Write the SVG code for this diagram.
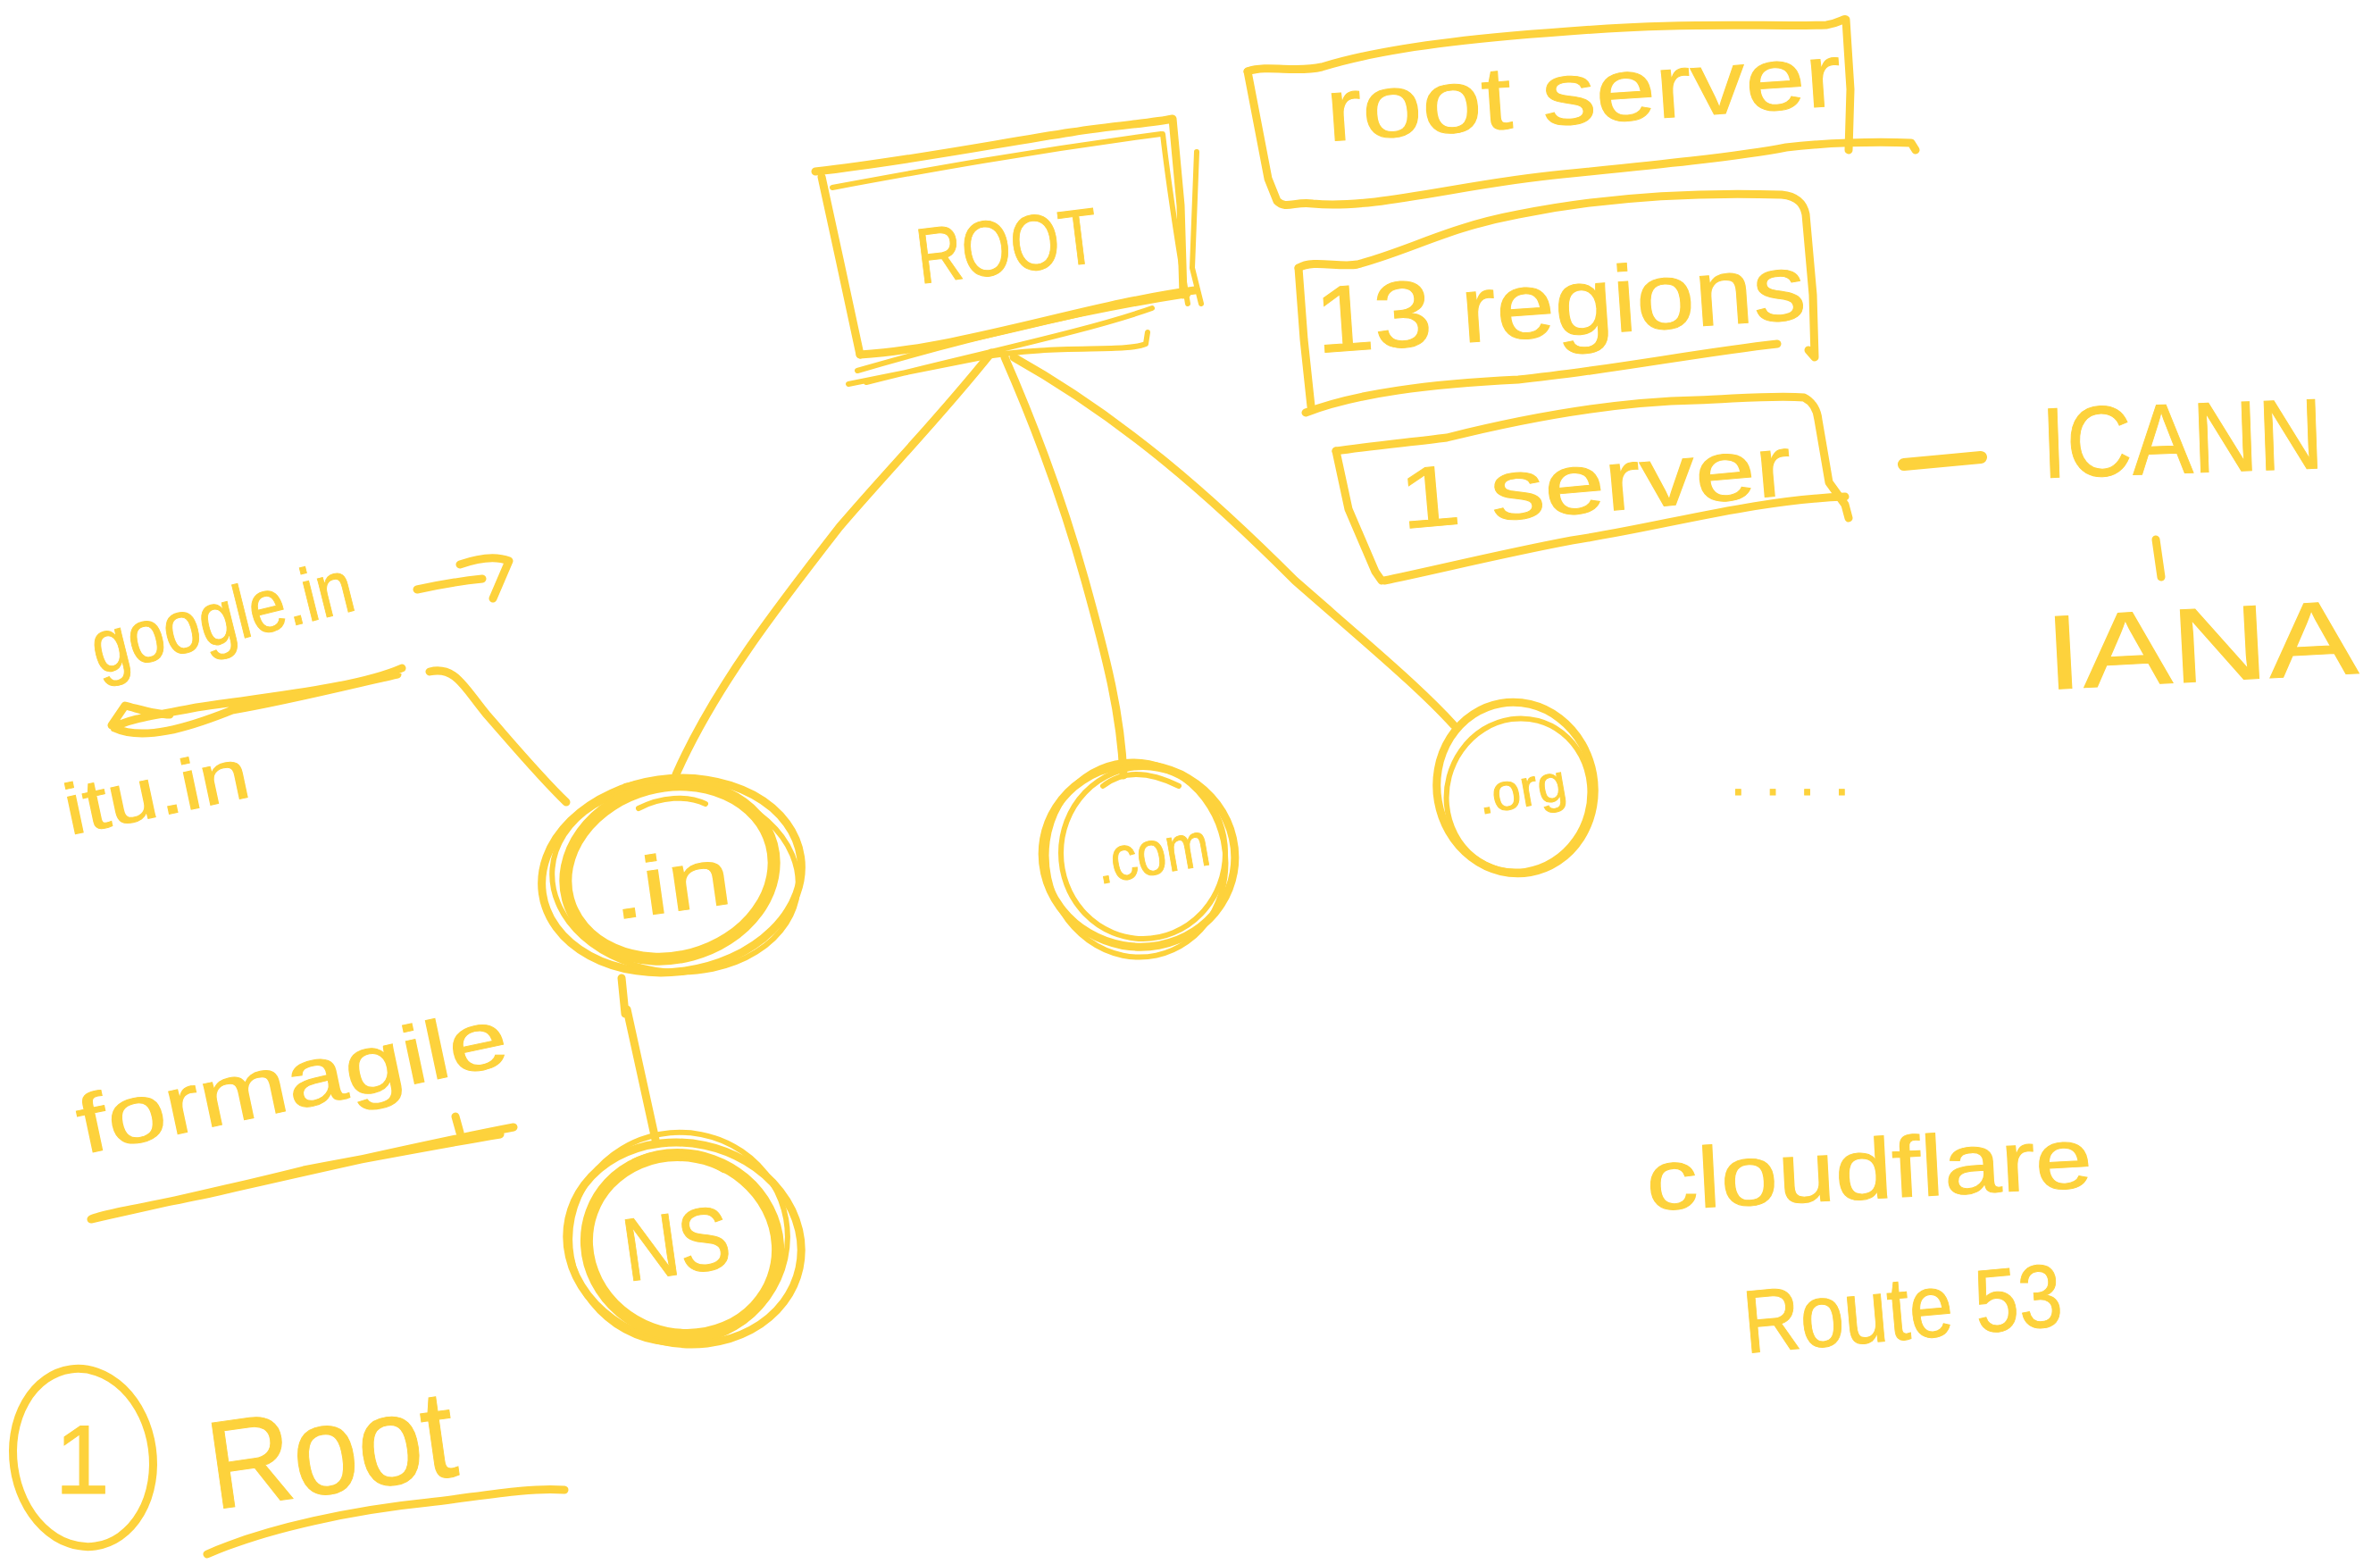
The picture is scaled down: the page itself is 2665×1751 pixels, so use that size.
<svg xmlns="http://www.w3.org/2000/svg" width="2665" height="1751" viewBox="0 0 2665 1751">
<style>
.s{fill:none;stroke:#FDD23C;stroke-width:9;stroke-linecap:round;stroke-linejoin:round}
.t{stroke-width:6}
.k{stroke-width:14}
.h{fill:#FDD23C;stroke:#FDD23C;stroke-width:1;font-family:"Liberation Sans","DejaVu Sans",sans-serif}
</style>
<rect width="2665" height="1751" fill="#ffffff"/>

<g id="connectors">
<path class="s" d="M1110,395 C1050,470 1000,520 940,590 C870,680 800,770 757,867"/>
<path class="s" d="M1125,400 C1160,480 1190,560 1215,650 C1240,740 1255,800 1258,868"/>
<path class="s" d="M1135,400 C1260,470 1360,560 1450,650 C1530,720 1590,770 1628,812"/>
<path class="s" d="M481,752 C510,745 520,770 545,800 C580,840 605,870 634,898"/>
<path class="s" d="M696,1095 L700,1135 M702,1130 L734,1276"/>
<path class="s k" d="M2132,520 L2218,512"/>
<path class="s" d="M2414,604 L2420,646"/>
</g>

<g id="root">
<path class="s" d="M913,192 C1020,180 1120,160 1200,148 C1250,140 1290,138 1313,133 L1322,230 L1325,330"/>
<path class="s t" d="M932,210 C1040,190 1150,170 1300,150"/>
<path class="s" d="M920,198 L940,290 L963,397"/>
<path class="s t" d="M1302,150 C1310,220 1320,280 1330,340 M1340,170 L1335,300 L1345,340"/>
<path class="s" d="M963,397 C1080,390 1220,340 1338,325"/>
<path class="s t" d="M960,415 C1080,380 1200,350 1330,330 M970,428 C1100,395 1220,370 1290,345 M950,430 C1000,420 1060,408 1100,400 C1180,385 1260,395 1283,385 L1285,372"/>
<text class="h" x="1028" y="318" font-size="88" textLength="204" lengthAdjust="spacingAndGlyphs" transform="rotate(-7 1028 300)">ROOT</text>
</g>

<g id="root-server">
<path class="s" d="M1397,80 C1420,72 1450,82 1480,75 C1560,50 1680,40 1800,32 C1900,25 1990,30 2045,28 C2060,26 2065,20 2067,22 L2072,100 L2070,168"/>
<path class="s" d="M1397,80 L1420,200 L1430,225 C1440,235 1450,225 1470,228 C1540,235 1640,205 1750,195 C1850,185 1950,175 2000,165 C2040,160 2100,158 2140,160 L2145,168"/>
<text class="h" x="1487" y="158" font-size="100" textLength="578" lengthAdjust="spacingAndGlyphs" transform="rotate(-4 1487 158)">root server</text>
</g>

<g id="regions">
<path class="s" d="M1454,300 C1470,290 1500,300 1520,296 C1580,280 1620,255 1700,240 C1800,220 1900,215 1995,218 C2015,220 2020,230 2022,240 L2030,330 L2032,400 L2025,392"/>
<path class="s" d="M1454,300 L1460,380 L1468,455"/>
<path class="s" d="M1462,462 C1520,440 1600,430 1700,425 C1800,415 1900,395 1990,385"/>
<text class="h" x="1475" y="395" font-size="105" textLength="550" lengthAdjust="spacingAndGlyphs" transform="rotate(-4 1475 395)">13 regions</text>
</g>

<g id="one-server">
<path class="s" d="M1496,505 C1530,500 1580,495 1620,490 C1700,470 1800,450 1900,448 C1950,446 1990,442 2020,445 C2030,450 2035,460 2036,470 L2048,540 L2066,565 L2070,580"/>
<path class="s" d="M1496,505 L1510,570 L1540,640 L1547,650"/>
<path class="s" d="M1550,650 C1600,640 1680,620 1760,605 C1860,590 1960,560 2066,556"/>
<text class="h" x="1570" y="592" font-size="96" textLength="440" lengthAdjust="spacingAndGlyphs" transform="rotate(-5 1570 592)">1 server</text>
</g>

<g id="icann">
<text class="h" x="2287" y="535" font-size="112" textLength="316" lengthAdjust="spacingAndGlyphs" transform="rotate(-2 2287 535)">ICANN</text>
<text class="h" x="2292" y="772" font-size="118" textLength="350" lengthAdjust="spacingAndGlyphs" transform="rotate(-3 2292 772)">IANA</text>
</g>

<g id="tld-in">
<ellipse class="s" cx="752" cy="980" rx="146" ry="108" transform="rotate(-8 752 980)"/>
<ellipse class="s t" cx="756" cy="984" rx="138" ry="104" transform="rotate(5 756 984)"/>
<ellipse class="s k" cx="750" cy="976" rx="118" ry="96" transform="rotate(-15 750 976)"/>
<path class="s t" d="M700,880 C740,870 780,872 810,880 M715,905 C740,892 770,890 790,900"/>
<text class="h" x="685" y="1030" font-size="92" textLength="136" lengthAdjust="spacingAndGlyphs" transform="rotate(-8 685 1010)">.in</text>
</g>

<g id="tld-com">
<ellipse class="s" cx="1275" cy="958" rx="108" ry="102" transform="rotate(10 1275 958)"/>
<ellipse class="s t" cx="1272" cy="962" rx="100" ry="110" transform="rotate(-12 1272 962)"/>
<ellipse class="s t" cx="1280" cy="955" rx="92" ry="96"/>
<path class="s t" d="M1235,880 C1260,860 1290,865 1320,880"/>
<text class="h" x="1228" y="990" font-size="70" textLength="128" lengthAdjust="spacingAndGlyphs" transform="rotate(-10 1228 970)">.com</text>
</g>

<g id="tld-org">
<ellipse class="s" cx="1697" cy="882" rx="88" ry="96" transform="rotate(-10 1697 882)"/>
<ellipse class="s t" cx="1700" cy="890" rx="80" ry="86" transform="rotate(15 1700 890)"/>
<text class="h" x="1655" y="912" font-size="58" textLength="100" lengthAdjust="spacingAndGlyphs" transform="rotate(-10 1655 895)">.org</text>
</g>

<g id="dots">
<text class="h" x="1938" y="890" font-size="60" letter-spacing="22">....</text>
</g>

<g id="ns">
<ellipse class="s" cx="766" cy="1392" rx="132" ry="112" transform="rotate(12 766 1392)"/>
<ellipse class="s t" cx="760" cy="1386" rx="122" ry="118" transform="rotate(-10 760 1386)"/>
<ellipse class="s k" cx="764" cy="1394" rx="108" ry="100" transform="rotate(20 764 1394)"/>
<path class="s t" d="M710,1300 C740,1285 780,1290 810,1310"/>
<text class="h" x="700" y="1435" font-size="100" textLength="120" lengthAdjust="spacingAndGlyphs" transform="rotate(-8 700 1415)">NS</text>
</g>

<g id="google">
<text class="h" x="110" y="755" font-size="84" textLength="300" lengthAdjust="spacingAndGlyphs" transform="rotate(-14 110 755)">google.in</text>
<path class="s" d="M467,660 C490,655 520,650 540,648 M515,632 C535,625 555,622 570,628 L552,670"/>
<path class="s" d="M450,748 C400,770 300,780 220,792 C180,800 140,805 128,815 C160,830 210,815 260,795 C320,785 400,765 445,755 M125,812 L140,790 C160,795 175,800 190,800"/>
<text class="h" x="78" y="935" font-size="80" textLength="210" lengthAdjust="spacingAndGlyphs" transform="rotate(-12 78 935)">itu.in</text>
</g>

<g id="formagile">
<text class="h" x="94" y="1292" font-size="92" textLength="490" lengthAdjust="spacingAndGlyphs" transform="rotate(-12 94 1292)">formagile</text>
<path class="s" d="M575,1262 C480,1280 350,1310 240,1335 C170,1350 110,1360 102,1365 C170,1350 260,1330 340,1310 C420,1295 500,1280 560,1270 M510,1250 L515,1268"/>
</g>

<g id="step-root">
<ellipse class="s" cx="93" cy="1632" rx="78" ry="100" transform="rotate(-8 93 1632)"/>
<text class="h" x="92" y="1672" font-size="110" text-anchor="middle">1</text>
<text class="h" x="240" y="1690" font-size="140" textLength="278" lengthAdjust="spacingAndGlyphs" transform="rotate(-8 240 1690)">Root</text>
<path class="s" d="M232,1740 C300,1710 400,1690 480,1682 C540,1675 590,1665 632,1668"/>
</g>

<g id="cloud">
<text class="h" x="1845" y="1355" font-size="96" textLength="500" lengthAdjust="spacingAndGlyphs" transform="rotate(-3 1845 1355)">cloudflare</text>
<text class="h" x="1955" y="1515" font-size="100" textLength="358" lengthAdjust="spacingAndGlyphs" transform="rotate(-5 1955 1515)">Route 53</text>
</g>
</svg>
